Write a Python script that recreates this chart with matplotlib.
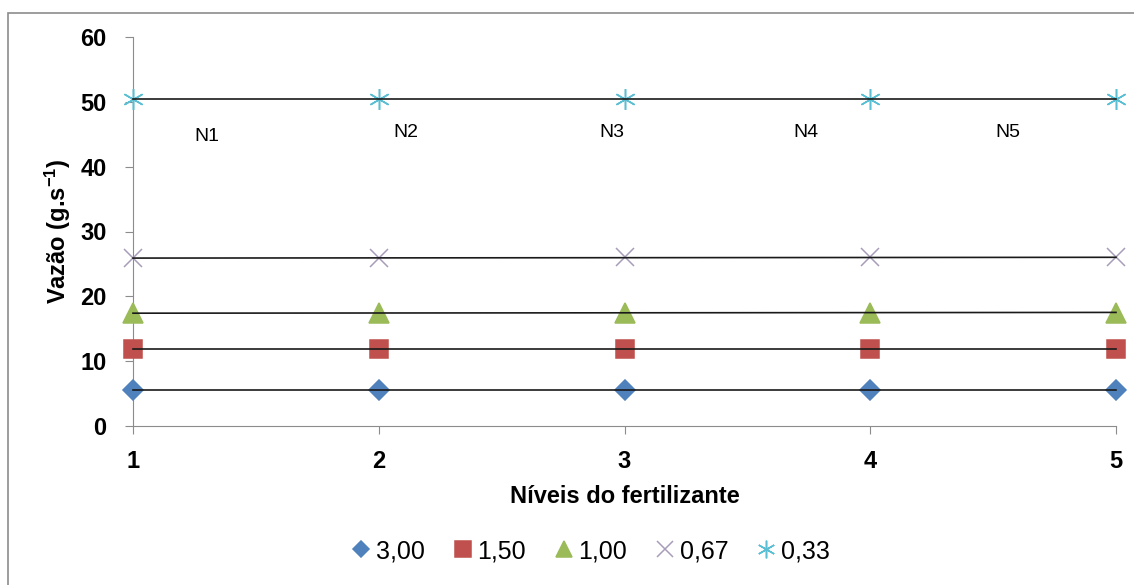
import numpy as np
import matplotlib
matplotlib.use("Agg")
from matplotlib import pyplot as plt
from matplotlib.patches import Rectangle

plt.rcParams['font.family'] = ['Liberation Sans', 'DejaVu Sans']
plt.rcParams['mathtext.default'] = 'regular'

# data
niveis = [1, 2, 3, 4, 5]
series_names = ["3,00", "1,50", "1,00", "0,67", "0,33"]
vazao_300 = [5.6, 5.6, 5.6, 5.6, 5.6]
vazao_150 = [11.9, 11.9, 11.9, 11.9, 11.9]
vazao_100 = [17.4, 17.4, 17.5, 17.5, 17.5]
vazao_067 = [25.9, 25.9, 26.0, 26.0, 26.0]
vazao_033 = [50.5, 50.5, 50.5, 50.5, 50.5]
n_labels = ["N1", "N2", "N3", "N4", "N5"]
n_label_x = [1.30, 2.11, 2.95, 3.74, 4.56]
n_label_y = [44.6, 45.2, 45.2, 45.2, 45.2]

fig = plt.figure(figsize=(11.34, 5.85), dpi=100)
ax = fig.add_axes([133/1134, 1 - 426/585, (1116-133)/1134, (426-37)/585])

# outer chart border
fig.patches.append(Rectangle((8/1134, -0.05), 1.2, 1 - 13/585 + 0.05,
                             transform=fig.transFigure, fill=False,
                             edgecolor='#8c8c8c', linewidth=1.2))

allSeries = [vazao_300, vazao_150, vazao_100, vazao_067, vazao_033]
markers = ['D', 's', '^', 'x', (6, 2, 0)]
colors = ['#4F81BD', '#C0504D', '#9BBB59', '#A79DBB', '#5BBFD3']
sizes = [10, 13, 14, 13, 15]

for vals, name, mk, col, ms in zip(allSeries, series_names, markers, colors, sizes):
    ax.plot(niveis, vals, linestyle='none', marker=mk, color=col,
            markersize=ms, markeredgecolor=col, markeredgewidth=1.1,
            label=name, clip_on=False, zorder=3)
    # linear trend line
    coef = np.polyfit(niveis, vals, 1)
    ax.plot(niveis, np.polyval(coef, niveis), color='#1a1a1a', linewidth=1.2,
            zorder=4, clip_on=False)

for lbl, lx, ly in zip(n_labels, n_label_x, n_label_y):
    ax.text(lx, ly, lbl, fontsize=14, ha='center', va='center')

ax.set_xlim(1, 5)
ax.set_ylim(0, 60)
ax.set_xticks(niveis)
ax.set_yticks(range(0, 61, 10))
for s in ['top', 'right']:
    ax.spines[s].set_visible(False)
for s in ['left', 'bottom']:
    ax.spines[s].set_color('#8c8c8c')
ax.tick_params(axis='both', colors='#8c8c8c', labelcolor='black',
               labelsize=17, length=6, direction='out')
ax.tick_params(axis='y', pad=13)
ax.tick_params(axis='x', pad=11)
for t in ax.get_xticklabels() + ax.get_yticklabels():
    t.set_fontweight('bold')

ax.set_xlabel("Níveis do fertilizante", fontsize=17, fontweight='bold', labelpad=9)
ax.set_ylabel("Vazão (g.s$^{-1}$)", fontsize=17, fontweight='bold', labelpad=5)

fig.legend(loc='center', bbox_to_anchor=(588/1134, 1 - 551/585), ncol=5,
           frameon=False, fontsize=18, handletextpad=0.0, columnspacing=0.9,
           handlelength=1.2, markerscale=0.85)

fig.savefig("out.png", dpi=100)
